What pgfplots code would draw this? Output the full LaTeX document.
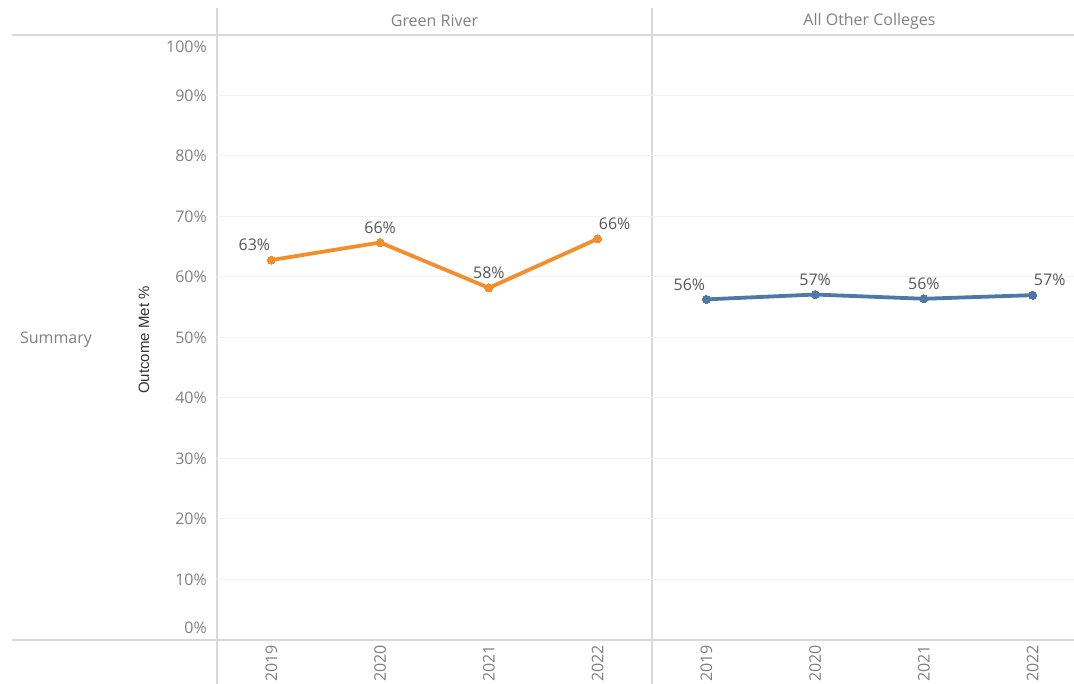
\documentclass[border=0pt]{standalone}
\usepackage{fontspec}
\setmainfont{Open Sans}
\newfontfamily\arialfont{Liberation Sans}
\usepackage{pgfplots}
\pgfplotsset{compat=1.18}

\definecolor{grorange}{HTML}{F28E2B}
\definecolor{othblue}{HTML}{4E79A7}
\definecolor{framegray}{HTML}{D9D9D9}
\definecolor{gridgray}{HTML}{F2F2F2}
\definecolor{ticktext}{HTML}{808080}
\definecolor{labeltext}{HTML}{555555}

\newcommand\chartfont{\fontsize{16}{19}\selectfont}

\pgfplotsset{
  panel/.style={
    scale only axis, height=605pt,
    ymin=0, ymax=100, xmin=-0.5,
    axis line style={draw=none}, major tick length=0pt,
    xtick={0,1,2,3}, xticklabels={2019,2020,2021,2022},
    xticklabel style={rotate=90, anchor=east, font=\chartfont, text=ticktext, inner sep=0pt},
    xticklabel shift=5pt,
    ytick={10,20,...,90},
    ymajorgrids, grid style={gridgray, line width=1pt},
    clip=false,
    nodes near coords, point meta=explicit symbolic,
    every node near coord/.append style={font=\chartfont, text=labeltext, anchor=center, yshift=15pt},
    coordinate style/.condition={x==0}{xshift=-17pt},
    coordinate style/.condition={x==3}{xshift=17pt},
  },
}

\begin{document}
\begin{tikzpicture}
\useasboundingbox (0pt,0pt) rectangle (1074pt,684pt);

% frame lines
\draw[framegray, line width=1.3pt] (12pt,649pt) -- (1074pt,649pt);
\draw[framegray, line width=1.3pt] (12pt,44pt) -- (1074pt,44pt);
\draw[framegray, line width=1.3pt] (217pt,676pt) -- (217pt,0pt);
\draw[framegray, line width=1.3pt] (652pt,676pt) -- (652pt,0pt);

% headers and row label
\node[font=\chartfont, text=ticktext] at (434.5pt,663pt) {Green River};
\node[font=\chartfont, text=ticktext] at (869.5pt,663pt) {All Other Colleges};
\node[font=\chartfont, text=ticktext] at (56pt,344pt) {Summary};
\node[font=\arialfont\fontsize{15}{18}\selectfont, text=black!80, rotate=90] at (144pt,344pt) {Outcome Met \%};

% Green River
\begin{axis}[panel, at={(217pt,44pt)}, anchor=south west,
    width=435pt, xmax=3.5,
    yticklabels={10\%,20\%,30\%,40\%,50\%,60\%,70\%,80\%,90\%},
    yticklabel style={font=\chartfont, text=ticktext, inner sep=0pt, anchor=east},
    yticklabel shift=10pt,
    extra y ticks={1.98,98.0},
    extra y tick labels={0\%,100\%},
    extra y tick style={grid=none},
]
\addplot[grorange, line width=3.8pt, mark=*, mark size=4pt, mark options={fill=grorange, line width=0pt}]
  coordinates {(0,62.8) [63\%] (1,65.7) [66\%] (2,58.2) [58\%] (3,66.3) [66\%]};
\end{axis}

% All Other Colleges
\begin{axis}[panel, at={(652pt,44pt)}, anchor=south west,
    width=422pt, xmax=3.38,
    yticklabels={},
]
\addplot[othblue, line width=3.8pt, mark=*, mark size=4pt, mark options={fill=othblue, line width=0pt}]
  coordinates {(0,56.3) [56\%] (1,57.1) [57\%] (2,56.4) [56\%] (3,57.0) [57\%]};
\end{axis}
\end{tikzpicture}
\end{document}
